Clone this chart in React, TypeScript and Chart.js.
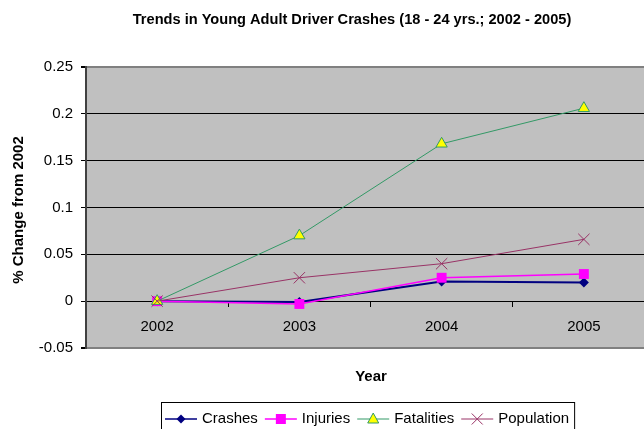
import React, { useEffect, useRef } from 'react';
import { Chart, registerables } from 'chart.js';

Chart.register(...registerables);

const years = ['2002', '2003', '2004', '2005'];
const crashes = [0, -0.001, 0.021, 0.02];
const injuries = [0, -0.003, 0.025, 0.029];
const fatalities = [0, 0.07, 0.168, 0.206];
const population = [0, 0.025, 0.04, 0.066];
const seriesNames = ['Crashes', 'Injuries', 'Fatalities', 'Population'];
const titleText = 'Trends in Young Adult Driver Crashes (18 - 24 yrs.; 2002 - 2005)';
const yTitleText = '% Change from 2002';
const xTitleText = 'Year';
const yMin = -0.05;
const yMax = 0.25;
const yStep = 0.05;

const FONT = "'Liberation Sans', Arial, sans-serif";

type MarkerKind = 'diamond' | 'square' | 'triangle' | 'x';

function drawMarker(ctx: CanvasRenderingContext2D, kind: MarkerKind, x: number, y: number, fill: string, stroke: string) {
  ctx.save();
  ctx.beginPath();
  if (kind === 'diamond') {
    const r = 4.5;
    ctx.moveTo(x, y - r);
    ctx.lineTo(x + r, y);
    ctx.lineTo(x, y + r);
    ctx.lineTo(x - r, y);
    ctx.closePath();
    ctx.fillStyle = fill;
    ctx.fill();
  } else if (kind === 'square') {
    const s = 5;
    ctx.rect(x - s, y - s, 2 * s, 2 * s);
    ctx.fillStyle = fill;
    ctx.fill();
  } else if (kind === 'triangle') {
    ctx.moveTo(x, y - 6);
    ctx.lineTo(x + 5.5, y + 4);
    ctx.lineTo(x - 5.5, y + 4);
    ctx.closePath();
    ctx.fillStyle = fill;
    ctx.fill();
    ctx.strokeStyle = stroke;
    ctx.lineWidth = 1;
    ctx.stroke();
  } else {
    const r = 5.5;
    ctx.moveTo(x - r, y - r);
    ctx.lineTo(x + r, y + r);
    ctx.moveTo(x + r, y - r);
    ctx.lineTo(x - r, y + r);
    ctx.strokeStyle = stroke;
    ctx.lineWidth = 1;
    ctx.stroke();
  }
  ctx.restore();
}

const legendStyles: { line: string; width: number; kind: MarkerKind; fill: string; stroke: string }[] = [
  { line: '#000080', width: 1.5, kind: 'diamond', fill: '#000080', stroke: '#000080' },
  { line: '#FF00FF', width: 1.5, kind: 'square', fill: '#FF00FF', stroke: '#FF00FF' },
  { line: '#339966', width: 1, kind: 'triangle', fill: '#FFFF00', stroke: '#339966' },
  { line: '#993366', width: 1, kind: 'x', fill: '#993366', stroke: '#993366' },
];

export default function App() {
  const ref = useRef<HTMLCanvasElement>(null);

  useEffect(() => {
    const canvas = ref.current;
    if (!canvas) return;

    const decor = {
      id: 'decor',
      beforeDraw(chart: any) {
        const { ctx, chartArea: a } = chart;
        ctx.save();
        ctx.fillStyle = '#C0C0C0';
        ctx.fillRect(a.left, a.top, a.right - a.left, a.bottom - a.top);
        ctx.restore();
      },
      afterDraw(chart: any) {
        const { ctx } = chart;
        ctx.save();
        ctx.fillStyle = '#000';
        ctx.textBaseline = 'middle';
        // main title
        ctx.font = `bold 14.6px ${FONT}`;
        ctx.textAlign = 'center';
        ctx.fillText(titleText, 352, 20);
        // x title
        ctx.font = `bold 15px ${FONT}`;
        ctx.fillText(xTitleText, 371, 377);
        // y title
        ctx.save();
        ctx.translate(19, 210);
        ctx.rotate(-Math.PI / 2);
        ctx.fillText(yTitleText, 0, 0);
        ctx.restore();

        // legend
        ctx.font = `15px ${FONT}`;
        ctx.textAlign = 'left';
        const ly = 419;
        let x = 165;
        seriesNames.forEach((name, i) => {
          const st = legendStyles[i];
          ctx.beginPath();
          ctx.strokeStyle = st.line;
          ctx.lineWidth = st.width;
          ctx.moveTo(x, ly);
          ctx.lineTo(x + 32, ly);
          ctx.stroke();
          drawMarker(ctx, st.kind, x + 16, ly, st.fill, st.stroke);
          ctx.fillStyle = '#000';
          ctx.fillText(name, x + 37, ly);
          x = x + 37 + ctx.measureText(name).width + 7;
        });
        const right = x - 2;
        ctx.strokeStyle = '#000';
        ctx.lineWidth = 1;
        ctx.strokeRect(161.5, 402.5, right - 161, 40);
        ctx.restore();
      },
    };

    const near = (v: number, t: number) => Math.abs(v - t) < 1e-6;

    const chart = new Chart(canvas, {
      type: 'line',
      data: {
        labels: years,
        datasets: [
          {
            label: seriesNames[0],
            data: crashes,
            borderColor: '#000080',
            backgroundColor: '#000080',
            borderWidth: 2,
            pointStyle: 'rectRot',
            pointRadius: 5,
            pointBorderWidth: 0,
            order: 3,
          },
          {
            label: seriesNames[1],
            data: injuries,
            borderColor: '#FF00FF',
            backgroundColor: '#FF00FF',
            borderWidth: 1.5,
            pointStyle: 'rect',
            pointRadius: 7,
            pointBorderWidth: 0,
            order: 2,
          },
          {
            label: seriesNames[2],
            data: fatalities,
            borderColor: '#339966',
            backgroundColor: '#FFFF00',
            pointBorderColor: '#339966',
            borderWidth: 1,
            pointStyle: 'triangle',
            pointRadius: 6.5,
            pointBorderWidth: 1,
            order: 1,
          },
          {
            label: seriesNames[3],
            data: population,
            borderColor: '#993366',
            backgroundColor: '#993366',
            pointBorderColor: '#993366',
            borderWidth: 1,
            pointStyle: 'crossRot',
            pointRadius: 8,
            pointBorderWidth: 1,
            order: 0,
          },
        ],
      },
      options: {
        responsive: false,
        animation: false,
        events: [],
        layout: { autoPadding: false, padding: { left: 0, top: 67, right: 0, bottom: 81 } },
        plugins: {
          legend: { display: false },
          title: { display: false },
          tooltip: { enabled: false },
        },
        elements: { line: { tension: 0 } },
        scales: {
          x: {
            type: 'category',
            position: { y: 0 } as any,
            offset: true,
            grid: {
              offset: true,
              drawOnChartArea: false,
              drawTicks: true,
              tickLength: 5,
              color: '#000',
            },
            border: { display: true, color: '#000', width: 1 },
            ticks: {
              color: '#000',
              font: { family: FONT, size: 15 },
              padding: 12,
            },
          },
          y: {
            min: yMin,
            max: yMax,
            afterFit(scale: any) {
              scale.width = 86;
            },
            grid: {
              color: (c: any) => {
                const v = c.tick ? c.tick.value : 0;
                if (near(v, yMax) || near(v, yMin)) return '#808080';
                return '#000';
              },
              lineWidth: (c: any) => {
                const v = c.tick ? c.tick.value : 0;
                if (near(v, yMax) || near(v, yMin)) return 2;
                return 1;
              },
              drawTicks: true,
              tickLength: 5,
              tickColor: '#000',
            },
            border: { display: true, color: '#404040', width: 2 },
            ticks: {
              stepSize: yStep,
              color: '#000',
              font: { family: FONT, size: 15 },
              padding: 8,
              callback: (v: any) => {
                const n = Math.round(Number(v) * 100) / 100;
                return String(n);
              },
            },
          },
        },
      },
      plugins: [decor],
    });

    return () => {
      chart.destroy();
    };
  }, []);

  return (
    <div
      style={{
        position: 'fixed',
        left: 0,
        top: 0,
        width: 644,
        height: 429,
        overflow: 'hidden',
        background: '#fff',
      }}
    >
      <canvas ref={ref} width={655} height={429} style={{ display: 'block', width: 655, height: 429 }} />
    </div>
  );
}
